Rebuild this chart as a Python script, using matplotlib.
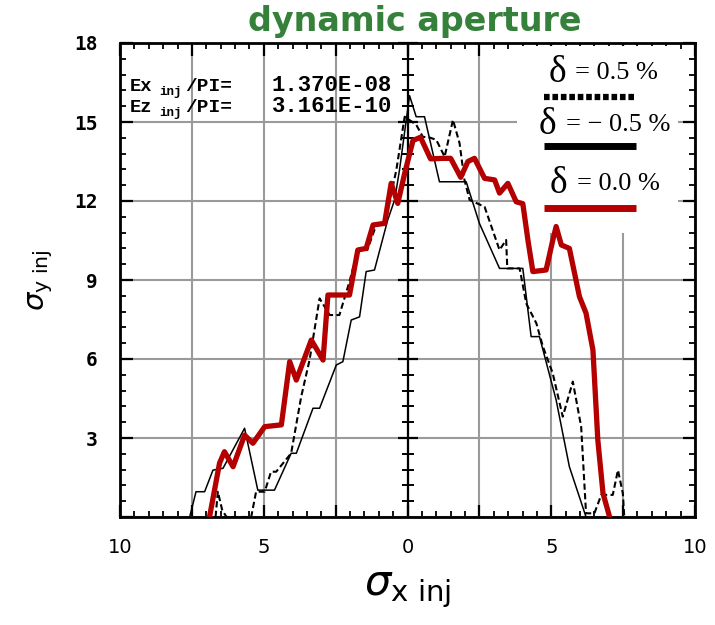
import numpy as np
import matplotlib
matplotlib.use("Agg")
import matplotlib.pyplot as plt
from matplotlib.patches import Rectangle
from matplotlib.ticker import MultipleLocator, FuncFormatter

# delta = +0.5 %  (dashed)
x_p05 = [-6.68, -6.6, -6.45, -6.3, -5.44, -5.27, -4.97, -4.75, -4.57, -4.05, -3.7, -3.41,
         -3.06, -2.71, -2.37, -2.25, -2.02, -1.73, -1.4, -1.09, -0.8, -0.39, -0.1, 0.3,
         0.53, 0.8, 1.0, 1.29, 1.58, 1.81, 1.98, 2.16, 2.68, 3.2, 3.43, 3.47, 3.9, 4.13,
         4.48, 4.71, 5.05, 5.4, 5.75, 6.04, 6.21, 6.5, 6.74, 7.14, 7.32, 7.49, 7.54]
y_p05 = [0, 0.96, 0.27, 0, 0, 0.96, 0.96, 1.72, 1.72, 2.42, 4.57, 5.96,
         8.3, 7.67, 7.67, 8.11, 8.94, 10.14, 10.14, 11.09, 11.09, 13.18, 15.2, 14.9,
         14.44, 14.4, 14.32, 13.68, 15.08, 14.19, 12.8, 12.04, 11.78, 10.14, 10.52, 9.44, 9.44, 8.11,
         7.36, 6.47, 5.46, 3.81, 5.14, 3.43, 0.14, 0.14, 0.84, 0.84, 1.78, 0.9, 0.0]

# delta = -0.5 %  (thin solid)
x_m05 = [-7.58, -7.36, -7.06, -6.77, -6.42, -5.67, -5.21, -4.63, -4.05, -3.87, -3.29, -3.06,
         -2.48, -2.25, -1.96, -1.67, -1.44, -1.15, -0.69, -0.45, -0.28, 0.07, 0.3, 0.59,
         1.11, 2.04, 2.5, 3.2, 4.01, 4.3, 4.59, 5.17, 5.63, 6.21]
y_m05 = [0, 0.96, 0.96, 1.78, 1.85, 3.37, 1.02, 1.02, 2.42, 2.42, 4.13, 4.13,
         5.77, 5.9, 7.48, 7.6, 9.32, 9.38, 11.28, 12.04, 13.18, 16.0, 15.2, 15.2,
         12.73, 12.73, 11.15, 9.44, 9.44, 6.85, 6.85, 4.44, 1.91, 0.0]

# delta = 0.0 %  (red)
x_00 = [-6.89, -6.54, -6.37, -6.07, -5.67, -5.38, -4.97, -4.39, -4.1, -3.87, -3.35, -2.94,
        -2.77, -2.02, -1.73, -1.44, -1.2, -0.8, -0.57, -0.34, -0.1, 0.19, 0.45, 0.8,
        1.23, 1.5, 1.85, 2.1, 2.33, 2.68, 3.03, 3.2, 3.49, 3.78, 4.01, 4.19, 4.36, 4.82,
        5.05, 5.17, 5.35, 5.63, 5.98, 6.21, 6.45, 6.62, 6.8, 7.03]
y_00 = [0.0, 2.05, 2.48, 1.91, 3.11, 2.8, 3.43, 3.5, 5.9, 5.2, 6.72, 5.96,
        8.43, 8.43, 10.14, 10.2, 11.09, 11.15, 12.67, 11.91, 13.05, 14.3, 14.42, 13.6,
        13.62, 13.62, 12.9, 13.5, 13.62, 12.86, 12.8, 12.3, 12.67, 11.97, 11.9, 10.5, 9.32, 9.38,
        10.5, 11.03, 10.33, 10.2, 8.37, 7.74, 6.34, 2.92, 0.9, 0.0]

x_labels = [-10, -5, 0, 5, 10]
y_labels = [3, 6, 9, 12, 15, 18]
emit_names = ['Ex', 'Ez']
emit_values = ['1.370E-08', '3.161E-10']
legend_texts = ['= 0.5 %', '= \u2212 0.5 %', '= 0.0 %']

fig = plt.figure(figsize=(7.15, 6.25), dpi=100)
ax = fig.add_axes([0.168, 0.1728, 0.804, 0.7584])
ax.set_xlim(-10, 10)
ax.set_ylim(0, 18)

# grid
ax.xaxis.set_major_locator(MultipleLocator(2.5))
ax.xaxis.set_minor_locator(MultipleLocator(0.5))
ax.yaxis.set_major_locator(MultipleLocator(3))
ax.yaxis.set_minor_locator(MultipleLocator(0.6))
ax.grid(True, which='major', color='#9a9a9a', lw=1.5, zorder=0)
ax.set_axisbelow(True)

# white patch behind the legend
ax.add_patch(Rectangle((3.8, 10.8), 5.6, 7.1, facecolor='white', edgecolor='none', zorder=1))

# central axis with ticks
ax.axvline(0, color='black', lw=1.6, zorder=2)
ax.plot(np.zeros(6), np.arange(3, 19, 3), ls='none', marker='_', ms=14, mew=1.6, color='black',
        zorder=2, clip_on=False)
minor_y = [v for v in np.arange(0.6, 18, 0.6) if abs(v / 3 - round(v / 3)) > 0.01]
ax.plot(np.zeros(len(minor_y)), minor_y, ls='none', marker='_', ms=8, mew=1.4, color='black', zorder=2)

ax.plot(x_m05, y_m05, color='black', lw=1.1, zorder=3)
ax.plot(x_p05, y_p05, color='black', lw=1.5, ls=(0, (3, 1.6)), zorder=3)
ax.plot(x_00, y_00, color='#b40000', lw=3.8, zorder=4)

# ticks
ax.tick_params(which='major', direction='in', length=9, width=1.6, top=True, right=True,
               labelsize=14)
ax.tick_params(which='minor', direction='in', length=4, width=1.3, top=True, right=True)
ax.tick_params(axis='x', which='major', pad=15)
ax.tick_params(axis='y', which='major', pad=16)


def xfmt(v, pos):
    if any(abs(v - l) < 1e-6 for l in x_labels):
        return '%d' % abs(round(v))
    return ''


def yfmt(v, pos):
    if any(abs(v - l) < 1e-6 for l in y_labels):
        return '%d' % round(v)
    return ''


ax.xaxis.set_major_formatter(FuncFormatter(xfmt))
ax.yaxis.set_major_formatter(FuncFormatter(yfmt))
for lab in ax.get_yticklabels():
    lab.set_fontfamily('DejaVu Sans Mono')
    lab.set_fontweight('bold')
    lab.set_fontsize(14)
for s in ax.spines.values():
    s.set_linewidth(2)

ax.set_xlabel(r'$\sigma_{\mathrm{x\ inj}}$', fontsize=30, labelpad=8)
ax.set_ylabel(r'$\sigma_{\mathrm{y\ inj}}$', fontsize=21, labelpad=14)
fig.text(0.58, 0.966, 'dynamic aperture', color='#35803a', fontsize=24, fontweight='bold',
         family='DejaVu Sans', ha='center', va='center')

# emittance annotation
mono = dict(family='Liberation Mono', fontweight='bold', color='black', transform=ax.transAxes,
            zorder=6, va='baseline')
for row, (nm, val) in enumerate(zip(emit_names, emit_values)):
    yy = 0.899 - row * 0.045
    ax.text(0.016, yy, nm, fontsize=13.5, **mono)
    ax.text(0.068, yy - 0.008, 'inj', fontsize=9, **mono)
    ax.text(0.114, yy, '/PI=', fontsize=14, **mono)
    ax.text(0.264, yy, val, fontsize=16, **mono)

# legend
serif = dict(family='Liberation Serif', color='black', transform=ax.transAxes, zorder=6, va='baseline')
leg_text_y = [0.918, 0.808, 0.684]
leg_line_y = [0.886, 0.783, 0.652]
leg_x0 = [0.745, 0.728, 0.748]
leg_styles = [dict(color='black', lw=4.5, ls=(0, (0.9, 0.45))),
              dict(color='black', lw=5),
              dict(color='#b40000', lw=5)]
for txt, ty, ly, x0, st in zip(legend_texts, leg_text_y, leg_line_y, leg_x0, leg_styles):
    ax.text(x0, ty, '\u03b4', fontsize=27, **serif)
    ax.text(x0 + 0.047, ty + 0.006, txt, fontsize=19, **serif)
    ax.plot([0.738, 0.898], [ly, ly], transform=ax.transAxes, zorder=6, solid_capstyle='butt', **st)

fig.savefig('out.png', dpi=100)
